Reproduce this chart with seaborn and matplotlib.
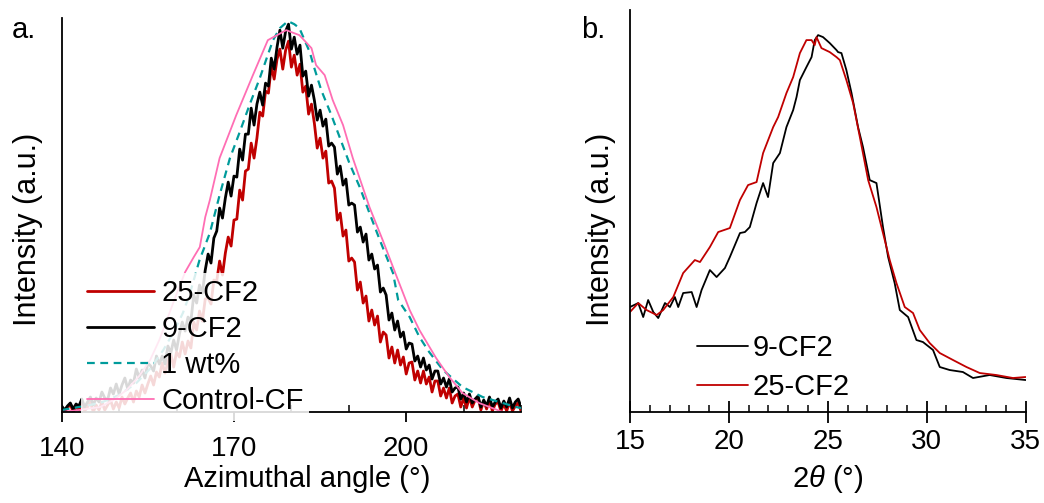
import numpy as np
import pandas as pd
import matplotlib
matplotlib.use("Agg")
import matplotlib.pyplot as plt
import seaborn as sns
from matplotlib.ticker import MultipleLocator, FixedLocator

sns.set_style("ticks")
plt.rcParams['font.family'] = ['Liberation Sans', 'DejaVu Sans']
plt.rcParams['mathtext.fontset'] = 'custom'
plt.rcParams['mathtext.it'] = 'Liberation Sans:italic'
plt.rcParams['mathtext.rm'] = 'Liberation Sans'
for k in ['text.color', 'axes.labelcolor', 'xtick.color', 'ytick.color', 'axes.edgecolor']:
    plt.rcParams[k] = 'black'

# ---------------- Panel a data ----------------
angle_grid = np.arange(140, 220.01, 0.5)

cf2_9 = [6, 2, 6, 9, 3, 8, 6, 13, 5, 10, 15, 7, 14, 10, 20, 14, 12, 24, 18, 28,
         18, 27, 34, 23, 32, 29, 43, 34, 42, 34, 49, 46, 41, 56, 48, 56, 48, 66, 59, 72,
         62, 78, 90, 81, 95, 91, 117, 109, 127, 119, 142, 158, 149, 174, 181, 204, 194, 214, 230, 216,
         236, 235, 263, 252, 278, 278, 304, 287, 308, 320, 307, 329, 326, 354, 343, 365, 382, 364, 381, 388,
         363, 375, 358, 367, 336, 341, 316, 327, 312, 292, 302, 286, 293, 266, 269, 265, 238, 246, 227, 233,
         207, 209, 207, 180, 185, 170, 178, 152, 158, 143, 147, 120, 124, 117, 92, 99, 82, 91, 75, 80,
         63, 69, 68, 51, 56, 45, 54, 42, 47, 33, 41, 41, 28, 34, 25, 33, 20, 24, 25, 13,
         19, 10, 18, 9, 13, 16, 5, 12, 6, 15, 5, 10, 13, 4, 11, 5, 14, 4, 10, 13,
         5]

cf2_25 = [5, 0, 4, 8, 0, 5, 2, 8, 1, 5, 10, 0, 7, 2, 10, 2, 7, 12, 3, 10,
          4, 15, 8, 14, 19, 10, 21, 15, 27, 19, 28, 36, 27, 40, 35, 49, 39, 50, 58, 45,
          60, 55, 70, 58, 71, 64, 90, 82, 101, 91, 113, 114, 108, 132, 131, 151, 137, 159, 175, 166,
          192, 193, 222, 212, 241, 243, 269, 254, 274, 300, 296, 321, 319, 346, 333, 353, 363, 343, 362, 371,
          345, 357, 337, 348, 320, 326, 298, 308, 289, 264, 274, 254, 261, 229, 231, 224, 192, 199, 176, 182,
          151, 154, 150, 122, 130, 109, 116, 91, 102, 87, 96, 70, 80, 77, 54, 65, 49, 62, 47, 55,
          38, 49, 50, 32, 41, 29, 41, 28, 35, 20, 31, 31, 16, 24, 14, 24, 9, 16, 18, 5,
          14, 4, 15, 5, 12, 15, 2, 11, 3, 12, 1, 8, 10, 1, 8, 1, 10, 1, 6, 9,
          1]

if len(cf2_9) != len(angle_grid) or len(cf2_25) != len(angle_grid):
    raise SystemExit(f"length mismatch {len(angle_grid)} {len(cf2_9)} {len(cf2_25)}")

wt1_angle = [140, 143, 146.7, 150, 153, 155.5, 157.7, 159.5, 161.1, 162.3, 163.5, 164, 165.8,
             167.5, 169.3, 171, 172.7, 174.5, 175.7, 176.8, 178, 179.4, 180.5, 181.4, 183.2,
             184, 185.2, 186.9, 188.4, 190.1, 191.9, 193.6, 195.4, 197.7, 198.6, 200.6, 202.3,
             204, 206.4, 209.8, 213.3, 216.8, 219.1, 220]
wt1 = [2, 5, 9, 17, 29, 44, 62, 80, 99, 118, 142, 152, 179,
       217, 254, 280, 307, 334, 354, 372, 384, 391, 388, 384, 360,
       344, 322, 298, 275, 249, 225, 199, 172, 139, 112, 95, 75,
       60, 42, 25, 15, 9, 5, 4]

ctrl_angle = [140, 143, 146.7, 149, 151.3, 153.5, 155.4, 157, 158.3, 160, 161.5, 163, 164.05,
              165, 165.8, 167.5, 170.4, 173.3, 175.9, 179.1, 181.4, 183.5, 184.3, 185.8, 187.2,
              189, 190.7, 193.6, 195.9, 198.3, 200.6, 202.3, 205.2, 207.5, 209.8, 212.7, 216.8]
ctrl = [0, 2, 5, 12, 22, 36, 52, 72, 92, 118, 140, 155, 165,
        195, 212, 254, 297, 337, 372, 382, 377, 364, 347, 337, 312,
        287, 254, 205, 172, 136, 102, 82, 54, 35, 19, 9, 0]

a_major_ticks = [140, 170, 200]

# ---------------- Panel b data ----------------
b9_2t = [15.0, 15.42, 15.67, 15.92, 16.18, 16.43, 16.77, 17.02, 17.27, 17.44, 17.69, 18.12,
         18.37, 18.62, 19.04, 19.38, 19.80, 20.05, 20.56, 20.81, 21.06, 21.40, 21.73, 21.98,
         22.24, 22.58, 22.91, 23.25, 23.42, 23.59, 23.92, 24.18, 24.34, 24.51, 24.76, 25.10,
         25.44, 25.52, 25.69, 25.94, 26.20, 26.53, 26.78, 27.12, 27.46, 27.79, 28.05, 28.38,
         28.64, 29.06, 29.48, 29.81, 30.32, 30.66, 31.16, 31.83, 32.34, 33.18, 34.03, 35.0]
b9_int = [105, 109, 95, 112, 100, 94, 109, 105, 115, 105, 119, 120,
          105, 122, 142, 135, 144, 155, 179, 180, 185, 209, 229, 215,
          249, 259, 285, 302, 315, 332, 345, 355, 372, 377, 375, 369,
          362, 360, 359, 342, 319, 285, 265, 232, 229, 185, 155, 129,
          102, 95, 72, 70, 62, 45, 42, 40, 34, 37, 34, 32]

b25_2t = [15.0, 15.42, 15.84, 16.35, 16.68, 17.19, 17.69, 18.28, 18.54, 19.04, 19.46, 20.05,
          20.56, 20.97, 21.40, 21.73, 22.24, 22.49, 22.91, 23.25, 23.59, 23.92, 24.18, 24.34,
          24.43, 24.68, 25.10, 25.44, 25.61, 25.94, 26.28, 26.62, 27.04, 27.46, 27.79, 28.13,
          28.47, 28.89, 29.31, 29.65, 30.15, 30.66, 31.33, 32.01, 32.68, 33.52, 34.36, 35.0]
b25_int = [100, 109, 102, 97, 102, 115, 139, 152, 150, 165, 180, 184,
           212, 227, 230, 259, 285, 295, 319, 335, 359, 372, 372, 367,
           375, 364, 360, 355, 352, 332, 309, 275, 232, 205, 179, 152,
           129, 105, 99, 82, 69, 59, 52, 45, 39, 37, 34, 35]

# ---------------- Figure ----------------
fig = plt.figure(figsize=(10.44, 5.03), dpi=100)
axa = fig.add_axes([0.0591, 0.1809, 0.440, 0.783])
axb = fig.add_axes([0.6034, 0.1809, 0.379, 0.799])

red = '#C00000'
teal = '#009B9B'
pink = '#FF6EB4'

sns.lineplot(x=angle_grid, y=cf2_25, ax=axa, color=red, lw=2.0, label='25-CF2')
sns.lineplot(x=angle_grid, y=cf2_9, ax=axa, color='black', lw=2.0, label='9-CF2')
sns.lineplot(x=wt1_angle, y=wt1, ax=axa, color=teal, lw=1.6, label='1 wt%',
             linestyle=(0, (3.5, 2.5)))
sns.lineplot(x=ctrl_angle, y=ctrl, ax=axa, color=pink, lw=1.3, label='Control-CF')

sns.lineplot(x=b9_2t, y=b9_int, ax=axb, color='black', lw=1.3, label='9-CF2')
sns.lineplot(x=b25_2t, y=b25_int, ax=axb, color=red, lw=1.3, label='25-CF2')

fs = 21
tfs = 20
yfs = 22
for ax in (axa, axb):
    sns.despine(ax=ax)
    ax.spines['left'].set_linewidth(1.3)
    ax.spines['bottom'].set_linewidth(1.3)
    ax.set_yticks([])
    ax.set_ylabel('Intensity (a.u.)', fontsize=yfs)

axa.yaxis.set_label_coords(-0.040, 0.464)
axb.yaxis.set_label_coords(-0.035, 0.455)

axa.set_xlim(140, 220)
axa.set_ylim(0, 394)
axa.xaxis.set_major_locator(FixedLocator(a_major_ticks))
axa.xaxis.set_minor_locator(MultipleLocator(10))
axa.tick_params(axis='x', which='major', direction='out', length=7, width=1.3,
                labelsize=tfs, pad=10)
axa.tick_params(axis='x', which='minor', direction='in', length=5, width=1.1)
axa.set_xlabel('Azimuthal angle (°)', fontsize=fs)
axa.xaxis.set_label_coords(0.534, -0.135)

axb.set_xlim(15, 35)
axb.set_ylim(0, 402)
axb.xaxis.set_major_locator(MultipleLocator(5))
axb.xaxis.set_minor_locator(MultipleLocator(1))
axb.tick_params(axis='x', which='major', direction='inout', length=16, width=1.3,
                labelsize=tfs, pad=4)
axb.tick_params(axis='x', which='minor', direction='in', length=5, width=1.1)
axb.set_xlabel(r'2$\theta$ (°)', fontsize=fs, labelpad=6)

la = axa.legend(loc='lower left', bbox_to_anchor=(0.042, -0.023), fontsize=fs, frameon=True,
                framealpha=0.85, edgecolor='none', facecolor='white', handlelength=2.3,
                handletextpad=0.25, labelspacing=0.275, borderpad=0.2, borderaxespad=0.0)
lb = axb.legend(loc='lower left', bbox_to_anchor=(0.139, -0.0025), fontsize=fs, frameon=False,
                handlelength=1.75, handletextpad=0.17, labelspacing=0.39, borderpad=0.4,
                borderaxespad=0.0)

fig.text(0.0115, 1 - 38 / 503, 'a.', fontsize=fs, va='baseline')
fig.text(0.557, 1 - 38 / 503, 'b.', fontsize=fs, va='baseline')

fig.savefig('out.png', dpi=100)
